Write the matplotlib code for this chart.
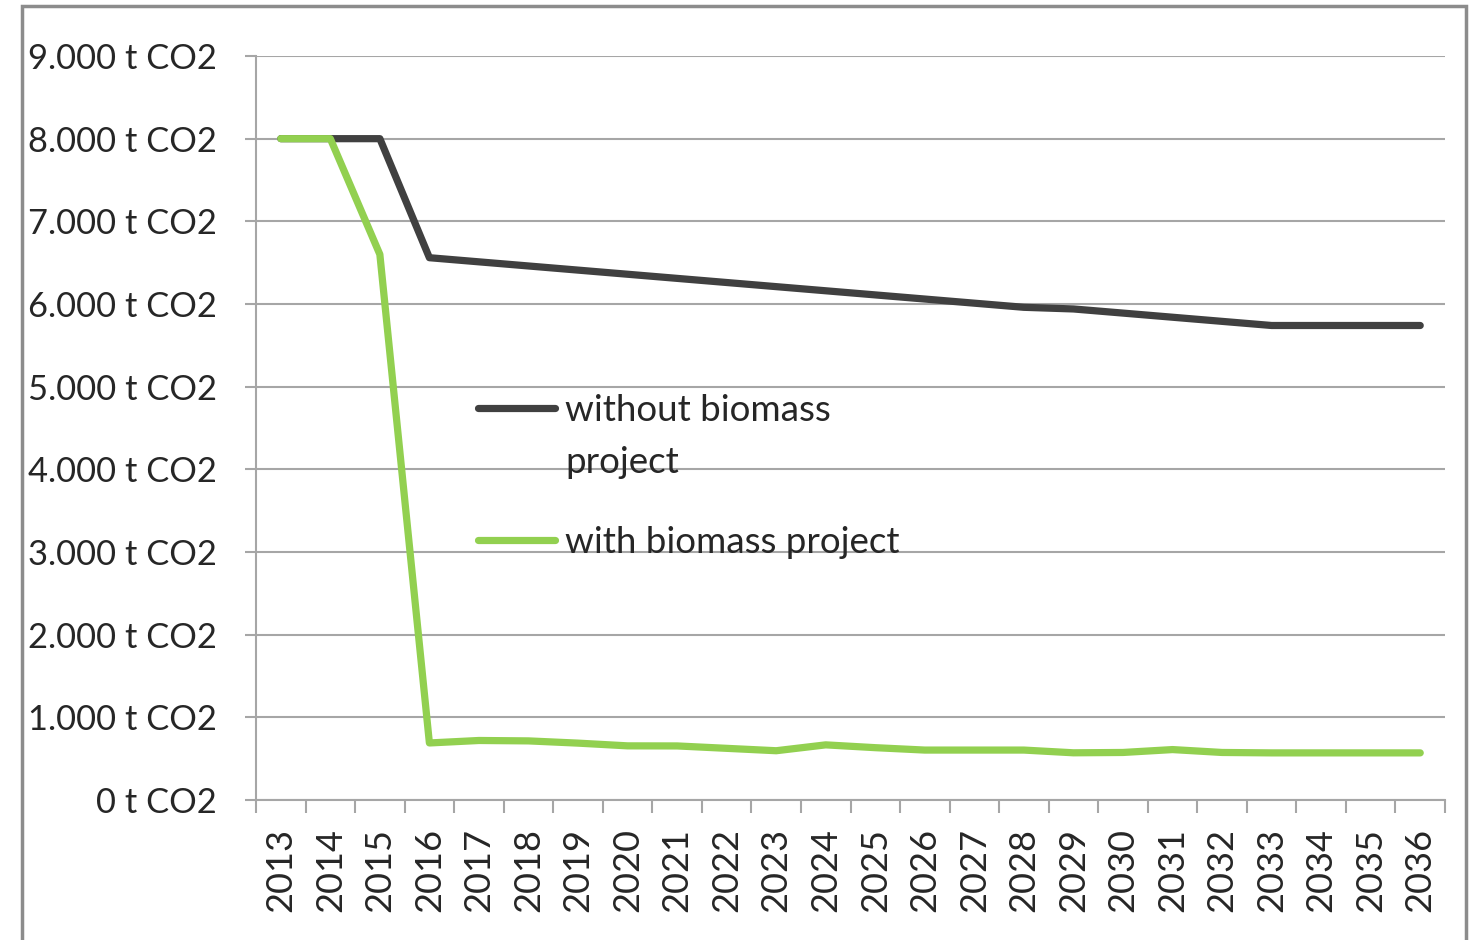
import matplotlib
matplotlib.use("Agg")
import matplotlib.pyplot as plt
from matplotlib.patches import Rectangle
from matplotlib.legend_handler import HandlerLine2D

years = [str(y) for y in range(2013, 2037)]
without_project = [8000, 8000, 8000, 6560, 6510, 6460, 6410, 6360, 6310, 6260, 6210, 6160,
                   6110, 6060, 6010, 5960, 5940, 5890, 5840, 5790, 5740, 5740, 5740, 5740]
with_project = [8000, 8000, 6600, 690, 720, 715, 688, 655, 654, 625, 596, 667,
                633, 604, 604, 604, 571, 575, 610, 575, 570, 570, 570, 570]
yticks = [0, 1000, 2000, 3000, 4000, 5000, 6000, 7000, 8000, 9000]
ytick_labels = ["0 t CO2", "1.000 t CO2", "2.000 t CO2", "3.000 t CO2", "4.000 t CO2",
                "5.000 t CO2", "6.000 t CO2", "7.000 t CO2", "8.000 t CO2", "9.000 t CO2"]
series_labels = ["without biomass\nproject", "with biomass project"]
colors = ["#404040", "#92D050"]

plt.rcParams['font.family'] = ['Lato', 'DejaVu Sans']
TXT = "#262626"

fig = plt.figure(figsize=(14.79, 9.40), dpi=100)
fig.patches.append(Rectangle((22 / 1479, -0.05), (1466 - 22) / 1479, 1.05 - 6 / 940,
                             transform=fig.transFigure, fill=False, edgecolor="#8c8c8c",
                             linewidth=2.5, zorder=0))
ax = fig.add_axes([256 / 1479, 1 - 800 / 940, (1445 - 256) / 1479, (800 - 56) / 940])

x = list(range(len(years)))
ax.plot(x, without_project, color=colors[0], lw=5.2, solid_capstyle="round",
        solid_joinstyle="round", label=series_labels[0], zorder=3)
ax.plot(x, with_project, color=colors[1], lw=5.2, solid_capstyle="round",
        solid_joinstyle="round", label=series_labels[1], zorder=4)

ax.set_xlim(-0.5, len(years) - 0.5)
ax.set_ylim(0, 9000)
ax.set_yticks(yticks)
ax.set_yticklabels(ytick_labels, fontsize=24.8, color=TXT)
ax.set_xticks(x)
ax.set_xticklabels(years, rotation=90, fontsize=26, color=TXT)
ax.set_xticks([i - 0.5 for i in range(len(years) + 1)], minor=True)
ax.tick_params(axis="x", which="major", length=0, pad=20)
ax.tick_params(axis="x", which="minor", length=9, width=1.5, color="#a6a6a6", direction="out")
ax.tick_params(axis="y", length=8, width=1.5, color="#a6a6a6", pad=20)
ax.yaxis.grid(True, color="#a6a6a6", lw=1.5)
ax.set_axisbelow(True)
for s in ["top", "right"]:
    ax.spines[s].set_visible(False)
for s in ["left", "bottom"]:
    ax.spines[s].set_color("#a6a6a6")
    ax.spines[s].set_linewidth(1.5)


class FirstLineHandler(HandlerLine2D):
    def __init__(self, shift, **kw):
        super().__init__(**kw)
        self.shift = shift

    def create_artists(self, legend, orig_handle, xdescent, ydescent, width, height,
                       fontsize, trans):
        arts = super().create_artists(legend, orig_handle, xdescent, ydescent, width,
                                      height, fontsize, trans)
        for a in arts:
            a.set_ydata([y + self.shift for y in a.get_ydata()])
        return arts


LFS = 26.5
handles, labels = ax.get_legend_handles_labels()
leg = ax.legend(handles, labels, loc="upper left", bbox_to_anchor=(0.159, 0.59),
                frameon=False, fontsize=LFS, handlelength=2.1, handletextpad=0.27,
                labelspacing=1.3, labelcolor=TXT,
                handler_map={handles[0]: FirstLineHandler(shift=21)})
for t in leg.get_texts():
    t.set_linespacing(1.68)

fig.savefig("out.png", dpi=100)
